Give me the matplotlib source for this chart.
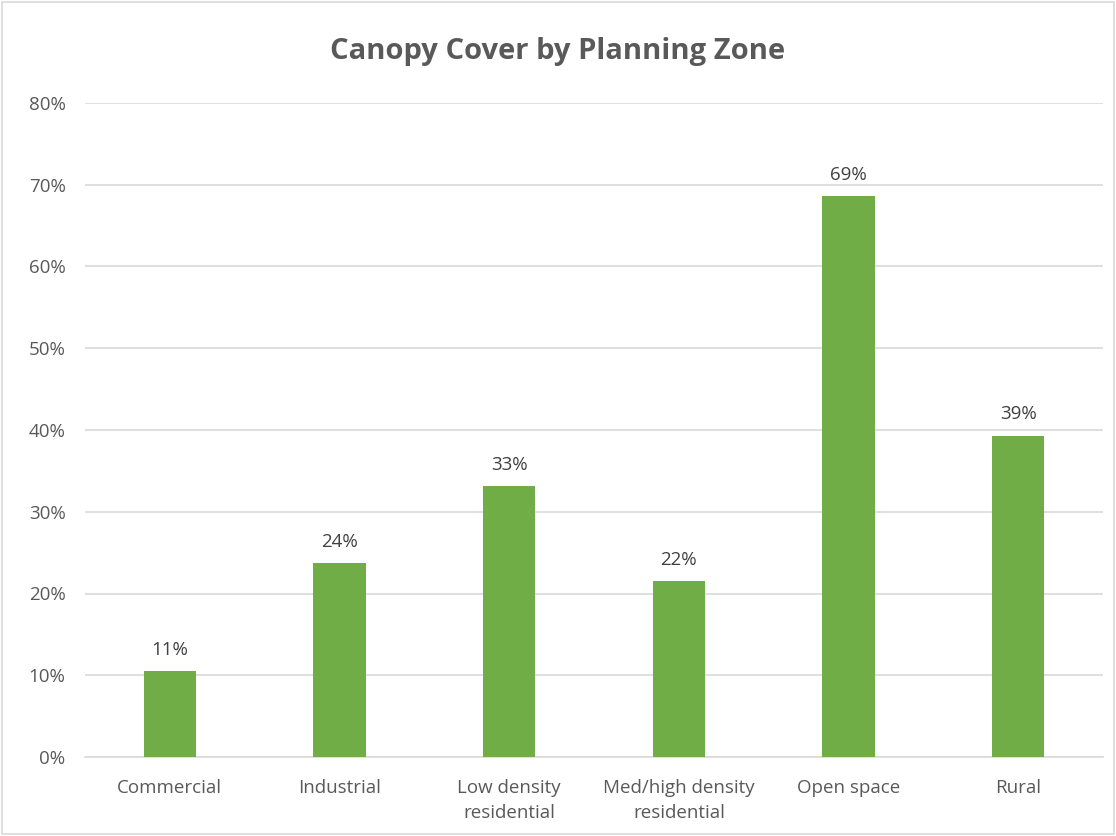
import matplotlib
matplotlib.use("Agg")
import matplotlib.pyplot as plt
from matplotlib.ticker import FuncFormatter, MultipleLocator
from matplotlib.patches import Rectangle

categories = ["Commercial", "Industrial", "Low density\nresidential",
              "Med/high density\nresidential", "Open space", "Rural"]
values = [10.5, 23.7, 33.1, 21.5, 68.6, 39.3]
labels = ["11%", "24%", "33%", "22%", "69%", "39%"]

plt.rcParams['font.family'] = ['Open Sans', 'DejaVu Sans']
gray = "#595959"

fig = plt.figure(figsize=(11.16, 8.36), dpi=100)
ax = fig.add_axes([85/1116, 1 - 757/836, (1103-85)/1116, (757-103)/836])

x = list(range(len(categories)))
bars = ax.bar(x, values, width=0.31, color="#70AD47", zorder=3)
for xi, v, lab in zip(x, values, labels):
    ax.text(xi, v + 1.5, lab, ha="center", va="bottom", fontsize=13.5, color="#404040")

ax.set_xlim(-0.5, len(categories) - 0.5)
ax.set_ylim(0, 80)
ax.yaxis.set_major_locator(MultipleLocator(10))
ax.yaxis.set_major_formatter(FuncFormatter(lambda v, p: f"{v:.0f}%"))
ax.set_xticks(x)
ax.set_xticklabels(categories, fontsize=13.5, color=gray, linespacing=1.45)
ax.tick_params(axis="y", labelsize=13.5, colors=gray, length=0, pad=14)
ax.tick_params(axis="x", length=0, pad=16)
ax.grid(axis="y", color="#D9D9D9", linewidth=1.2, zorder=0)
for s in ["top", "right", "left"]:
    ax.spines[s].set_visible(False)
ax.spines["bottom"].set_color("#D9D9D9")
ax.spines["bottom"].set_linewidth(1.2)

fig.text(0.5, 1 - 52/836, "Canopy Cover by Planning Zone", ha="center", va="center",
         fontsize=21, fontweight="bold", color=gray)

fig.patches.append(Rectangle((0.002, 0.002), 0.996, 0.996, transform=fig.transFigure,
                             fill=False, edgecolor="#D9D9D9", linewidth=1.2))

fig.savefig("out.png", dpi=100)
